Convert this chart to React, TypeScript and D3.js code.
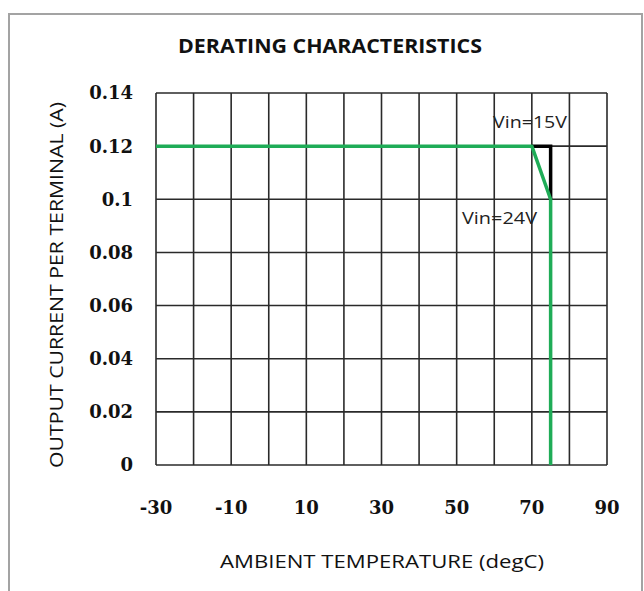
import React from "react";
import * as d3 from "d3";

const xTickValues = [-30, -10, 10, 30, 50, 70, 90];
const yTickValues = [0, 0.02, 0.04, 0.06, 0.08, 0.1, 0.12, 0.14];
const yTickLabels = ["0", "0.02", "0.04", "0.06", "0.08", "0.1", "0.12", "0.14"];

const vin24Temp = [-30, 70, 75, 75];
const vin24Current = [0.12, 0.12, 0.1, 0];
const vin15Temp = [70, 75, 75];
const vin15Current = [0.12, 0.12, 0.1];

const W = 644;
const H = 591;
const M = { left: 156, right: 607, top: 93, bottom: 465 };

export default function App() {
  const x = d3.scaleLinear().domain([-30, 90]).range([M.left, M.right]);
  const y = d3.scaleLinear().domain([0, 0.14]).range([M.bottom, M.top]);
  const xGrid = x.ticks(12);
  const yGrid = yTickValues;

  const line = d3
    .line<[number, number]>()
    .x((d) => x(d[0]))
    .y((d) => y(d[1]));

  const green = line(vin24Temp.map((t, i) => [t, vin24Current[i]] as [number, number])) || "";
  const black = line(vin15Temp.map((t, i) => [t, vin15Current[i]] as [number, number])) || "";

  const serif = "'DejaVu Serif', serif";
  const sans = "'Open Sans', 'Liberation Sans', sans-serif";

  return (
    <svg
      width={W}
      height={H}
      style={{ position: "absolute", left: 0, top: 0, background: "#fff" }}
    >
      <rect x={0} y={0} width={W} height={H} fill="#fff" />
      <rect x={9} y={14} width={633} height={600} fill="none" stroke="#a3a3a3" strokeWidth={2} />

      <text
        x={330}
        y={53}
        textAnchor="middle"
        fontFamily={sans}
        fontWeight="bold"
        fontSize={19}
        textLength={304}
        lengthAdjust="spacingAndGlyphs"
        fill="#111"
      >
        DERATING CHARACTERISTICS
      </text>

      {/* grid */}
      {xGrid.map((v) => (
        <line key={"gx" + v} x1={x(v)} x2={x(v)} y1={M.top} y2={M.bottom} stroke="#2a2a2a" strokeWidth={1.6} />
      ))}
      {yGrid.map((v) => (
        <line key={"gy" + v} x1={M.left} x2={M.right} y1={y(v)} y2={y(v)} stroke="#2a2a2a" strokeWidth={1.6} />
      ))}

      {/* y tick labels */}
      {yTickValues.map((v, i) => (
        <text
          key={"yt" + v}
          x={133}
          y={y(v)}
          dy="0.36em"
          textAnchor="end"
          fontFamily={serif}
          fontWeight="bold"
          fontSize={18}
          fill="#111"
        >
          {yTickLabels[i]}
        </text>
      ))}

      {/* x tick labels */}
      {xTickValues.map((v) => (
        <text
          key={"xt" + v}
          x={x(v)}
          y={514}
          textAnchor="middle"
          fontFamily={serif}
          fontWeight="bold"
          fontSize={18}
          fill="#111"
        >
          {v}
        </text>
      ))}

      {/* axis titles */}
      <text
        x={382}
        y={568}
        textAnchor="middle"
        fontFamily={sans}
        fontSize={18.5}
        textLength={324}
        lengthAdjust="spacingAndGlyphs"
        fill="#111"
      >
        AMBIENT TEMPERATURE (degC)
      </text>
      <text
        transform={`translate(63,285) rotate(-90)`}
        textAnchor="middle"
        fontFamily={sans}
        fontSize={18.5}
        textLength={366}
        lengthAdjust="spacingAndGlyphs"
        fill="#111"
      >
        OUTPUT CURRENT PER TERMINAL (A)
      </text>

      {/* curves */}
      <path d={black} fill="none" stroke="#000" strokeWidth={3.5} strokeLinejoin="miter" />
      <path d={green} fill="none" stroke="#1fac57" strokeWidth={3.5} strokeLinejoin="round" />

      {/* annotations */}
      <text x={493} y={128} fontFamily={sans} fontSize={17} textLength={74} lengthAdjust="spacingAndGlyphs" fill="#222">
        Vin=15V
      </text>
      <text x={462} y={224} fontFamily={sans} fontSize={17} textLength={75} lengthAdjust="spacingAndGlyphs" fill="#222">
        Vin=24V
      </text>
    </svg>
  );
}
